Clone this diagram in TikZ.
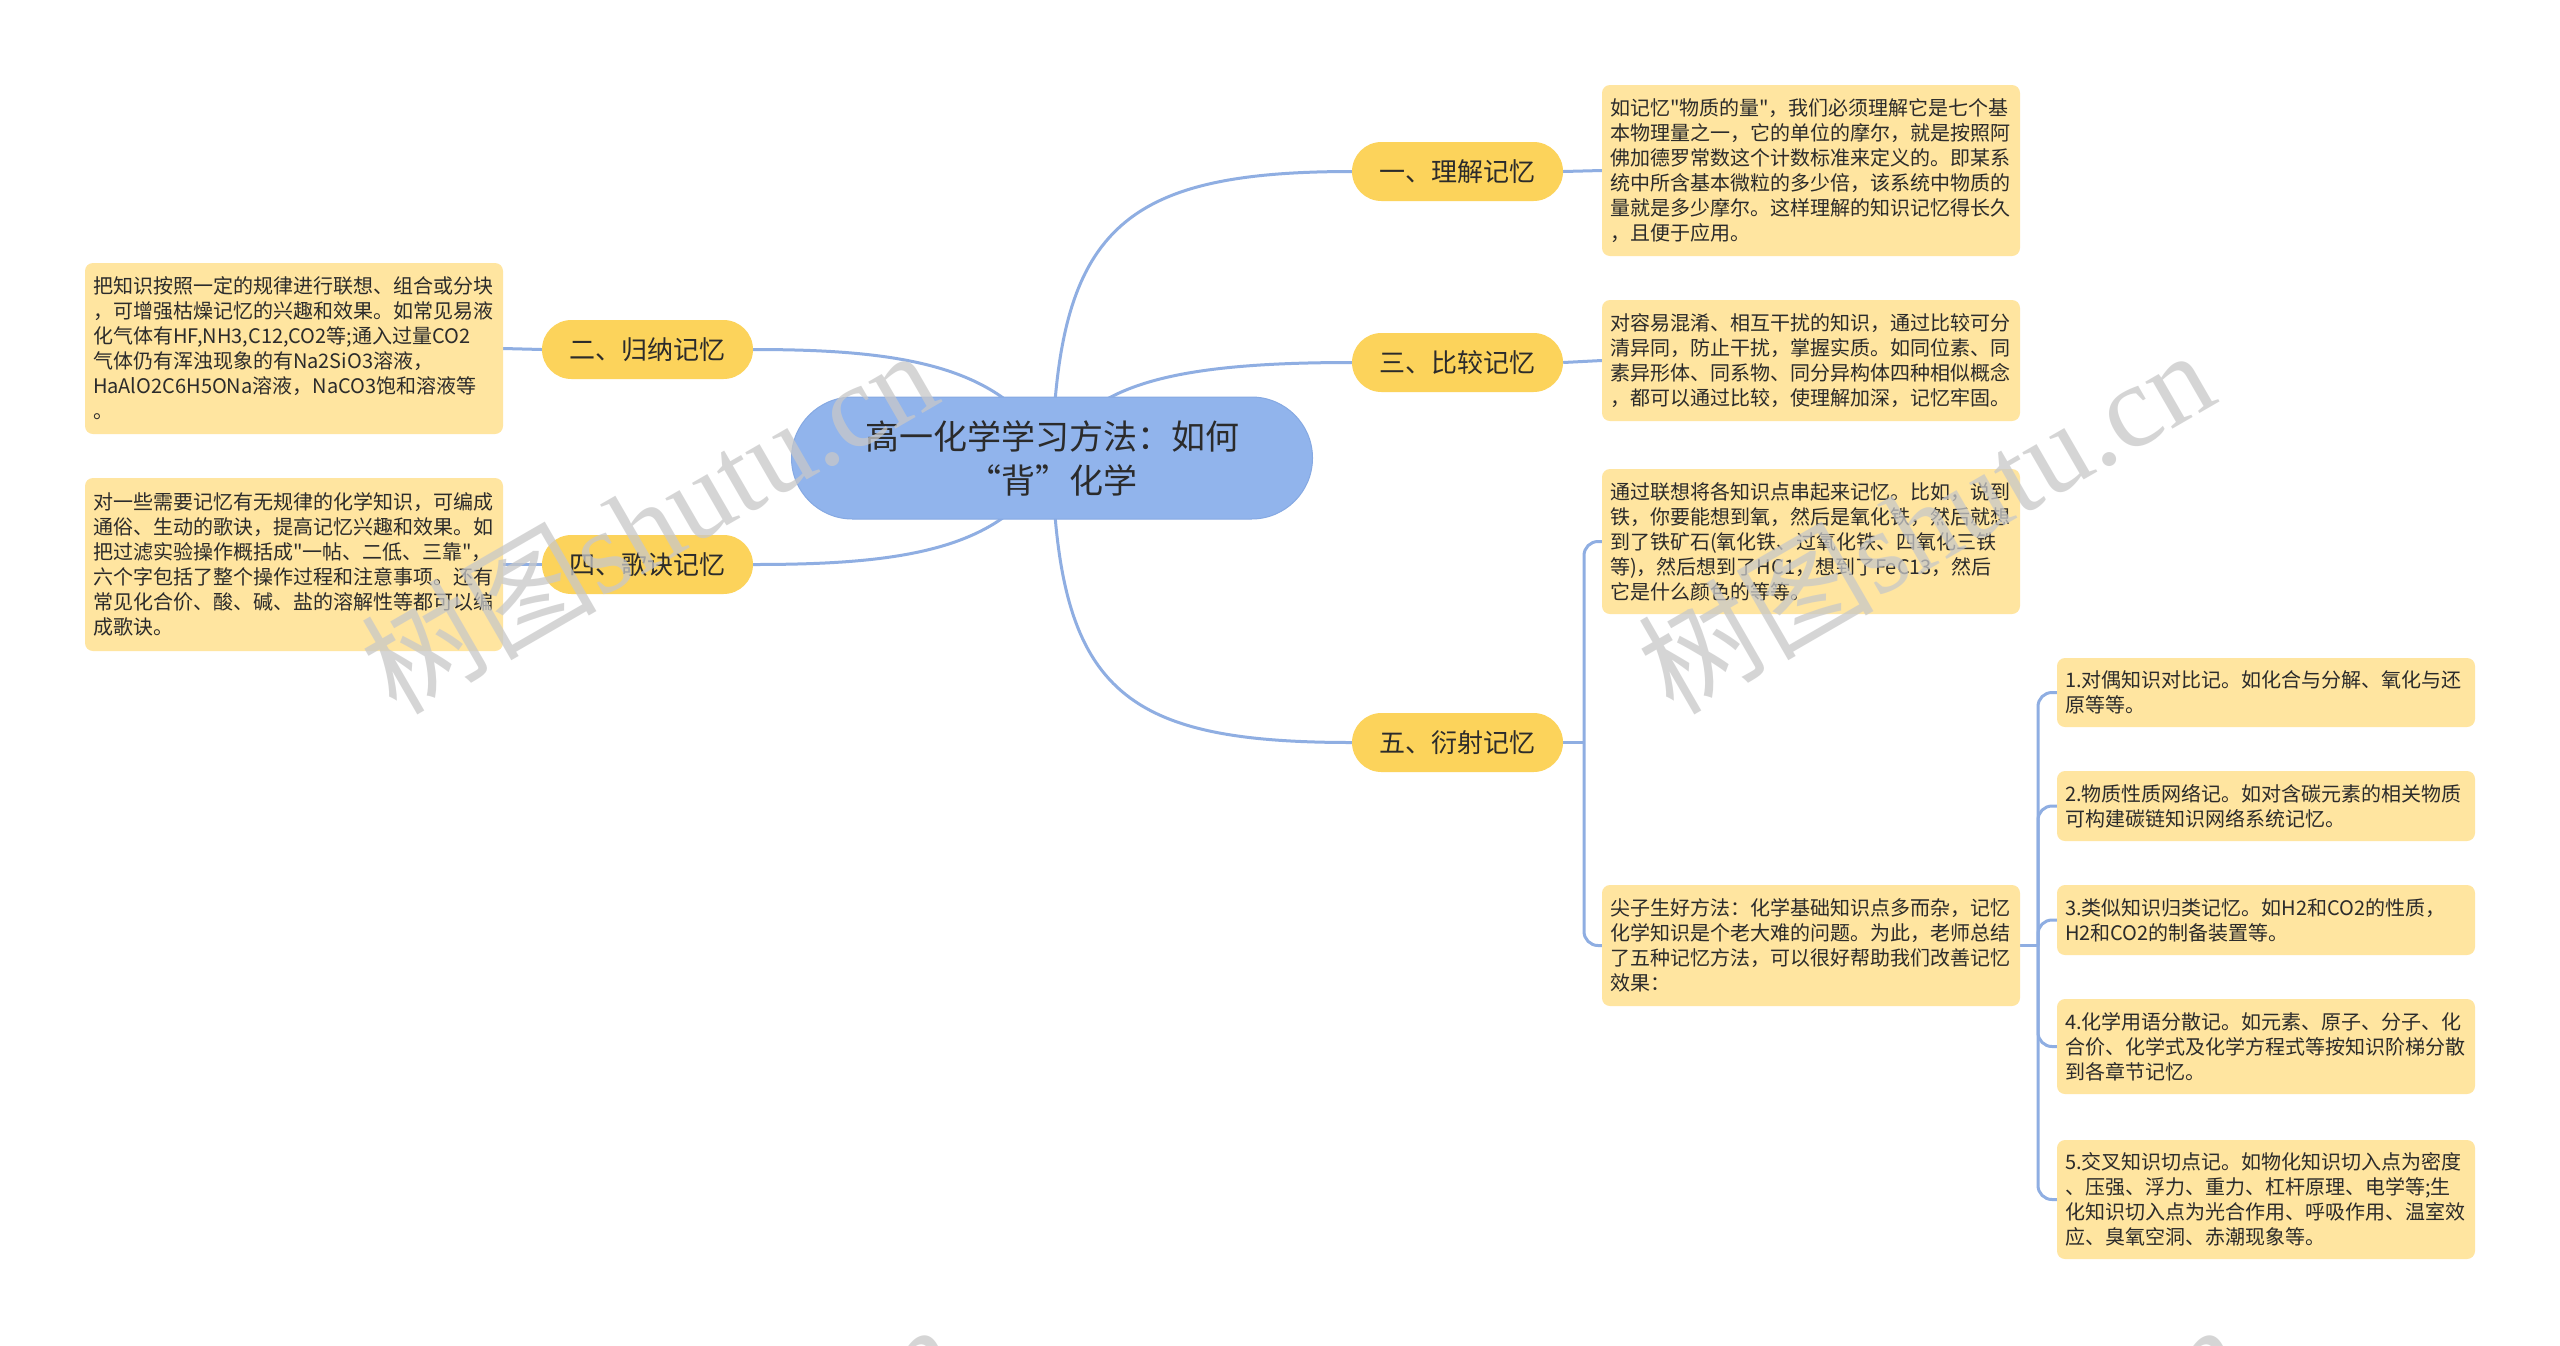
\documentclass[tikz,border=0pt]{standalone}
\usepackage{fontspec}
\setmainfont{Noto Sans CJK SC}[Ligatures=TeXOff]
\newfontfamily\wmserif{Liberation Serif}
\usetikzlibrary{backgrounds}
\definecolor{rootc}{HTML}{91B4EC}
\definecolor{rootd}{HTML}{86A9E2}
\definecolor{branchc}{HTML}{FCD35B}
\definecolor{leafc}{HTML}{FFE5A0}
\definecolor{linec}{HTML}{8FAEE2}
\definecolor{txtc}{HTML}{2B2B2B}
\definecolor{wmc}{HTML}{C8C8C8}
\tikzset{
  rootbox/.style={fill=rootc, draw=rootd, line width=1pt, rounded corners=61pt, minimum width=521pt, minimum height=122pt, align=center, text=txtc, font=\fontsize{34}{44}\selectfont, inner sep=0pt},
  branchbox/.style={fill=branchc, rounded corners=29.5pt, minimum width=211pt, minimum height=59pt, text=txtc, font=\fontsize{26}{30}\selectfont, inner sep=0pt},
  leafbox/.style={fill=leafc, rounded corners=8pt, text width=402pt, inner xsep=8pt, inner ysep=0pt, align=left, text=txtc, font=\fontsize{20}{25}\selectfont},
  conn/.style={draw=linec, line width=3pt},
  bracket/.style={draw=linec, line width=3pt, rounded corners=14pt},
  wmark/.style={text=wmc, opacity=0.75, rotate=30, font=\fontsize{118}{118}\selectfont}
}
\begin{document}
\begin{tikzpicture}[x=1pt,y=-1pt]
\useasboundingbox (0,0) rectangle (2560,1345);
% root
\node[rootbox] (c) at (1052,458) {高一化学学习方法：如何\\“背”化学};
% branches
\node[branchbox] (b1) at (1457.5,171.5) {一、理解记忆};
\node[branchbox] (b3) at (1457.5,362.5) {三、比较记忆};
\node[branchbox] (b5) at (1457.5,742.5) {五、衍射记忆};
\node[branchbox] (b2) at (647.5,349.5) {二、归纳记忆};
\node[branchbox] (b4) at (647.5,564.5) {四、歌诀记忆};
% leaves right
\node[leafbox, minimum height=171pt] (l1) at (1811,170.5) {如记忆"物质的量"，我们必须理解它是七个基\\本物理量之一，它的单位的摩尔，就是按照阿\\佛加德罗常数这个计数标准来定义的。即某系\\统中所含基本微粒的多少倍，该系统中物质的\\量就是多少摩尔。这样理解的知识记忆得长久\\，且便于应用。};
\node[leafbox, minimum height=121pt] (l3) at (1811,360.5) {对容易混淆、相互干扰的知识，通过比较可分\\清异同，防止干扰，掌握实质。如同位素、同\\素异形体、同系物、同分异构体四种相似概念\\，都可以通过比较，使理解加深，记忆牢固。};
\node[leafbox, minimum height=145pt] (l5a) at (1811,541.5) {通过联想将各知识点串起来记忆。比如，说到\\铁，你要能想到氧，然后是氧化铁，然后就想\\到了铁矿石(氧化铁、过氧化铁、四氧化三铁\\等)，然后想到了HC1，想到了FeC13，然后\\它是什么颜色的等等。};
\node[leafbox, minimum height=121pt] (l5b) at (1811,945.5) {尖子生好方法：化学基础知识点多而杂，记忆\\化学知识是个老大难的问题。为此，老师总结\\了五种记忆方法，可以很好帮助我们改善记忆\\效果：};
% leaves left
\node[leafbox, minimum height=171pt] (l2) at (294,348.5) {把知识按照一定的规律进行联想、组合或分块\\，可增强枯燥记忆的兴趣和效果。如常见易液\\化气体有HF,NH3,C12,CO2等;通入过量CO2\\气体仍有浑浊现象的有Na2SiO3溶液，\\HaAlO2C6H5ONa溶液，NaCO3饱和溶液等\\。};
\node[leafbox, minimum height=173pt] (l4) at (294,564.5) {对一些需要记忆有无规律的化学知识，可编成\\通俗、生动的歌诀，提高记忆兴趣和效果。如\\把过滤实验操作概括成"一帖、二低、三靠"，\\六个字包括了整个操作过程和注意事项。还有\\常见化合价、酸、碱、盐的溶解性等都可以编\\成歌诀。};
% sub leaves
\node[leafbox, minimum height=69pt] (s1) at (2266,692.5) {1.对偶知识对比记。如化合与分解、氧化与还\\原等等。};
\node[leafbox, minimum height=70pt] (s2) at (2266,806) {2.物质性质网络记。如对含碳元素的相关物质\\可构建碳链知识网络系统记忆。};
\node[leafbox, minimum height=70pt] (s3) at (2266,920) {3.类似知识归类记忆。如H2和CO2的性质，\\H2和CO2的制备装置等。};
\node[leafbox, minimum height=95pt] (s4) at (2266,1046.5) {4.化学用语分散记。如元素、原子、分子、化\\合价、化学式及化学方程式等按知识阶梯分散\\到各章节记忆。};
\node[leafbox, minimum height=119pt] (s5) at (2266,1199.5) {5.交叉知识切点记。如物化知识切入点为密度\\、压强、浮力、重力、杠杆原理、电学等;生\\化知识切入点为光合作用、呼吸作用、温室效\\应、臭氧空洞、赤潮现象等。};
\coordinate (j5) at (1584,742.5);
\coordinate (j6) at (2038,945.5);
\begin{scope}[on background layer]
\fill[white] (0,0) rectangle (2560,1345);
\draw[conn] (c.center) .. controls (1058,230) and (1120,171.5) .. (b1.west);
\draw[conn] (c.center) .. controls (1085,385) and (1170,362.5) .. (b3.west);
\draw[conn] (c.center) .. controls (1058,690) and (1120,742.5) .. (b5.west);
\draw[conn] (c.center) .. controls (1010,365) and (900,349.5) .. (b2.east);
\draw[conn] (c.center) .. controls (1010,551) and (900,564.5) .. (b4.east);
\draw[conn] (b1.east) -- (l1.west);
\draw[conn] (b3.east) -- (l3.west);
\draw[conn] (b2.west) -- (l2.east);
\draw[conn] (b4.west) -- (l4.east);
\draw[conn] (b5.east) -- (j5);
\draw[bracket] (l5a.west) -| (j5) |- (l5b.west);
\draw[conn] (l5b.east) -- (j6);
\draw[bracket] (s1.west) -| (j6) |- (s5.west);
\draw[bracket] (j6) |- (s2.west);
\draw[bracket] (j6) |- (s3.west);
\draw[bracket] (j6) |- (s4.west);
\end{scope}
% watermarks
\begin{scope}
\clip (0,0) rectangle (2560,1345);
\node[wmark] (w1) at (648,520) {树图{\wmserif shutu.cn}};
\node[wmark] (w2) at (1925,520) {树图{\wmserif shutu.cn}};
\node[wmark] (w3) at (668,1494) {树图{\wmserif shutu.cn}};
\node[wmark] (w4) at (1953,1494) {树图{\wmserif shutu.cn}};
\end{scope}
\end{tikzpicture}
\end{document}
